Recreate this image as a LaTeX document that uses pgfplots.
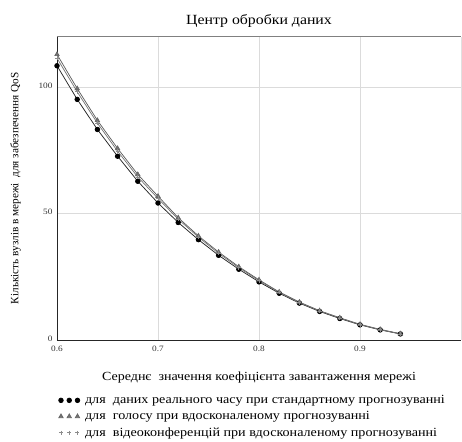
\documentclass[border=0pt]{standalone}
\usepackage{fontspec}
\setmainfont{Liberation Serif}
\newfontfamily\widefont[FakeStretch=1.13]{Liberation Serif}
\usepackage{pgfplots}
\pgfplotsset{compat=1.18}

\pgfplotstableread{
x     rt     voice  video
0.60  108.5  113.0  111.5
0.62  95.2   99.5   98.2
0.64  83.3   86.9   85.8
0.66  72.7   75.8   74.7
0.68  62.8   65.5   64.5
0.70  54.2   56.9   56.0
0.72  46.5   48.4   47.8
0.74  39.7   41.2   40.7
0.76  33.5   34.8   34.3
0.78  28.0   29.0   28.6
0.80  23.0   23.8   23.5
0.82  18.5   19.0   18.8
0.84  14.6   15.0   14.8
0.86  11.3   11.6   11.5
0.88  8.5    8.8    8.7
0.90  6.0    6.2    6.1
0.92  4.0    4.2    4.1
0.94  2.4    2.5    2.4
}\qos

\begin{document}
\begin{tikzpicture}
\begin{axis}[
    scale only axis,
    width=404pt, height=303.3pt,
    xmin=0.6, xmax=1.0,
    ymin=0, ymax=120,
    xtick={0.6,0.7,0.8,0.9},
    ytick={0,50,100},
    xticklabel style={/pgf/number format/fixed, /pgf/number format/precision=1, yshift=-2.5pt},
    yticklabel style={xshift=-1pt, yshift=1.5pt},
    /pgf/number format/assume math mode=true,
    tick label style={font=\widefont\fontsize{8.2}{9}\selectfont, text=black!80},
    major tick length=0pt,
    axis x line*=bottom, axis y line*=left,
    axis line style={black!85, line width=0.9pt, -},
    grid=major,
    major grid style={black!14, line width=0.9pt},
    title={Центр обробки даних},
    title style={font=\widefont\fontsize{14}{16}\selectfont, yshift=0pt},
    xlabel={Середнє\ \ значення коефіцієнта завантаження мережі},
    xlabel style={font=\widefont\fontsize{12.4}{14}\selectfont, yshift=-13pt},
    ylabel={Кількість вузлів в мережі\ \ для забезпечення QoS},
    ylabel style={font=\fontsize{11.2}{12}\selectfont, yshift=11pt},
    legend style={draw=none, fill=none, at={(0,-0.169)}, anchor=north west,
        font=\widefont\fontsize{12.5}{15}\selectfont, row sep=2.3pt,
        inner xsep=0pt,
        nodes={inner xsep=1.5pt}},
    legend cell align=left,
    legend image code/.code={
        \draw[#1] plot[only marks] coordinates {(0.12cm,0cm) (0.41cm,0cm) (0.70cm,0cm)};
        \path (0cm,0cm) (0.9cm,0cm);},
    after end axis/.code={
        \draw[black!50, line width=0.9pt] (rel axis cs:0,1) -- (rel axis cs:1,1);
        \draw[black!12, line width=0.6pt] (rel axis cs:1,0) -- (rel axis cs:1,1);
    },
]
\addplot[black!85, line width=0.75pt, mark=*, mark size=2.3pt, mark options={fill=black, draw=black}]
    table[x=x, y=rt] {\qos};
\addlegendentry{для\ \ даних реального часу при стандартному прогнозуванні}
\addplot[black!65, line width=0.7pt, mark=triangle*, mark size=2.5pt, mark options={fill=black!55, draw=black!60}]
    table[x=x, y=voice] {\qos};
\addlegendentry{для\ \ голосу при вдосконаленому прогнозуванні}
\addplot[black!55, line width=0.7pt, mark=+, mark size=2pt, mark options={draw=black!45}]
    table[x=x, y=video] {\qos};
\addlegendentry{для\ \ відеоконференцій при вдосконаленому прогнозуванні}
\end{axis}
\pgfresetboundingbox
\path[use as bounding box] (-57pt,-101pt) rectangle (405pt,340pt);
\end{tikzpicture}
\end{document}
